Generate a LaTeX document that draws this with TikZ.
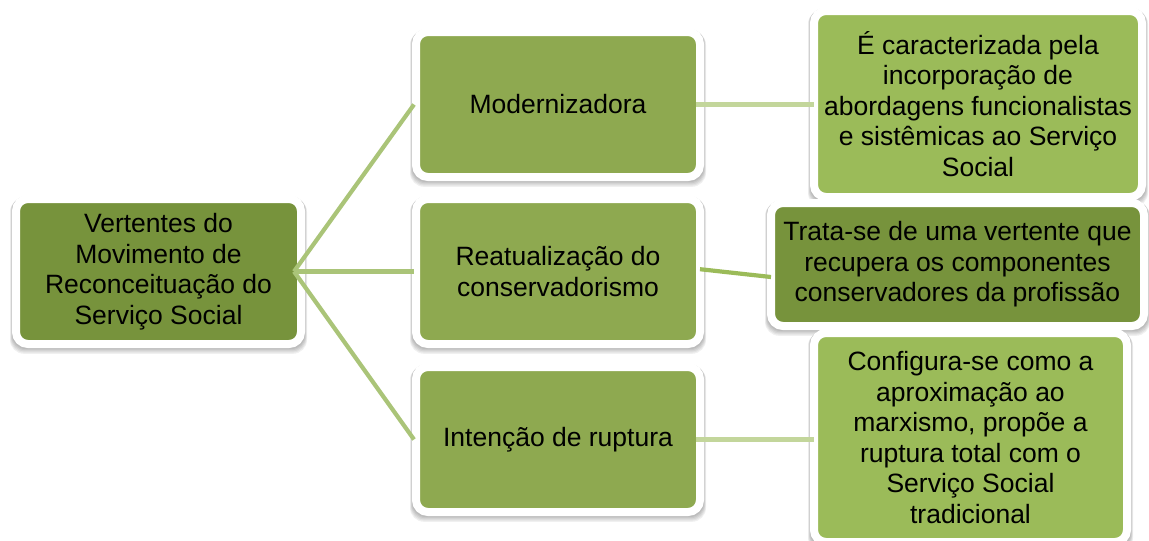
\documentclass[tikz,border=0pt]{standalone}
\usepackage{fontspec}
\setmainfont{Liberation Sans}
\definecolor{darkolive}{HTML}{77933C}
\definecolor{midolive}{HTML}{8EA950}
\definecolor{lightolive}{HTML}{9BBB59}
\definecolor{linkA}{HTML}{AAC478}
\definecolor{linkB}{HTML}{C3D69B}
\pgfdeclarelayer{background}
\pgfsetlayers{background,main}
\newcommand\softshade[1]{%
  \begin{pgfonlayer}{background}
  \foreach \i in {0,1,2,3,4}{%
    \fill[black, opacity=0.06, rounded corners=14pt]
      ([shift={(-4-0.5*\i,-3+0.5*\i)}]#1.north west) rectangle
      ([shift={(4+0.5*\i,5+1.2*\i)}]#1.south east);
  }
  \end{pgfonlayer}}
\begin{document}
\begin{tikzpicture}[x=1pt,y=-1pt,
  box/.style={draw=white, line width=8pt, rounded corners=12pt, align=center,
    inner sep=0pt, outer sep=0pt, text=black,
    font=\fontsize{26.5}{30.5}\selectfont},
  link/.style={line width=4.2pt, draw=linkA},
  sublink/.style={line width=4.2pt, draw=linkB}]
\useasboundingbox (0,0) rectangle (1149,541);
% root
\node[box, fill=darkolive, minimum width=285pt, minimum height=145pt] (L) at (158.5,271.5)
  {Vertentes do\\Movimento de\\Reconceituação do\\Serviço Social};
% middle
\node[box, fill=midolive, minimum width=284pt, minimum height=145pt] (M1) at (558,104.5) {Modernizadora};
\node[box, fill=midolive, minimum width=284pt, minimum height=145pt] (M2) at (558,271.5) {Reatualização do\\conservadorismo};
\node[box, fill=midolive, minimum width=284pt, minimum height=145pt] (M3) at (558,439.5) {Intenção de ruptura};
% right
\node[box, fill=lightolive, minimum width=328pt, minimum height=186pt] (R1) at (978,104)
  {É caracterizada pela\\incorporação de\\abordagens funcionalistas\\e sistêmicas ao Serviço\\Social};
\node[box, fill=darkolive, minimum width=373pt, minimum height=123pt] (R2) at (957.5,264.5)
  {Trata-se de uma vertente que\\recupera os componentes\\conservadores da profissão};
\node[box, fill=lightolive, minimum width=313pt, minimum height=209pt] (R3) at (970.5,437.5)
  {Configura-se como a\\aproximação ao\\marxismo, propõe a\\ruptura total com o\\Serviço Social\\tradicional};
\softshade{L}\softshade{M1}\softshade{M2}\softshade{M3}
\softshade{R1}\softshade{R2}\softshade{R3}
% connectors
\coordinate (hub) at ([xshift=-7pt]L.east);
\draw[link] (hub) -- ([xshift=-2pt]M1.west);
\draw[link] (hub) -- ([xshift=-2pt]M2.west);
\draw[link] (hub) -- ([xshift=-2pt]M3.west);
\draw[sublink] ([xshift=-4pt]M1.east) -- (R1.west |- M1.east);
\draw[line width=4.2pt, draw=lightolive] ([yshift=2.3pt]M2.east) -- ([yshift=-12.5pt]R2.west);
\draw[sublink] ([xshift=-4pt]M3.east) -- (R3.west |- M3.east);
\end{tikzpicture}
\end{document}
